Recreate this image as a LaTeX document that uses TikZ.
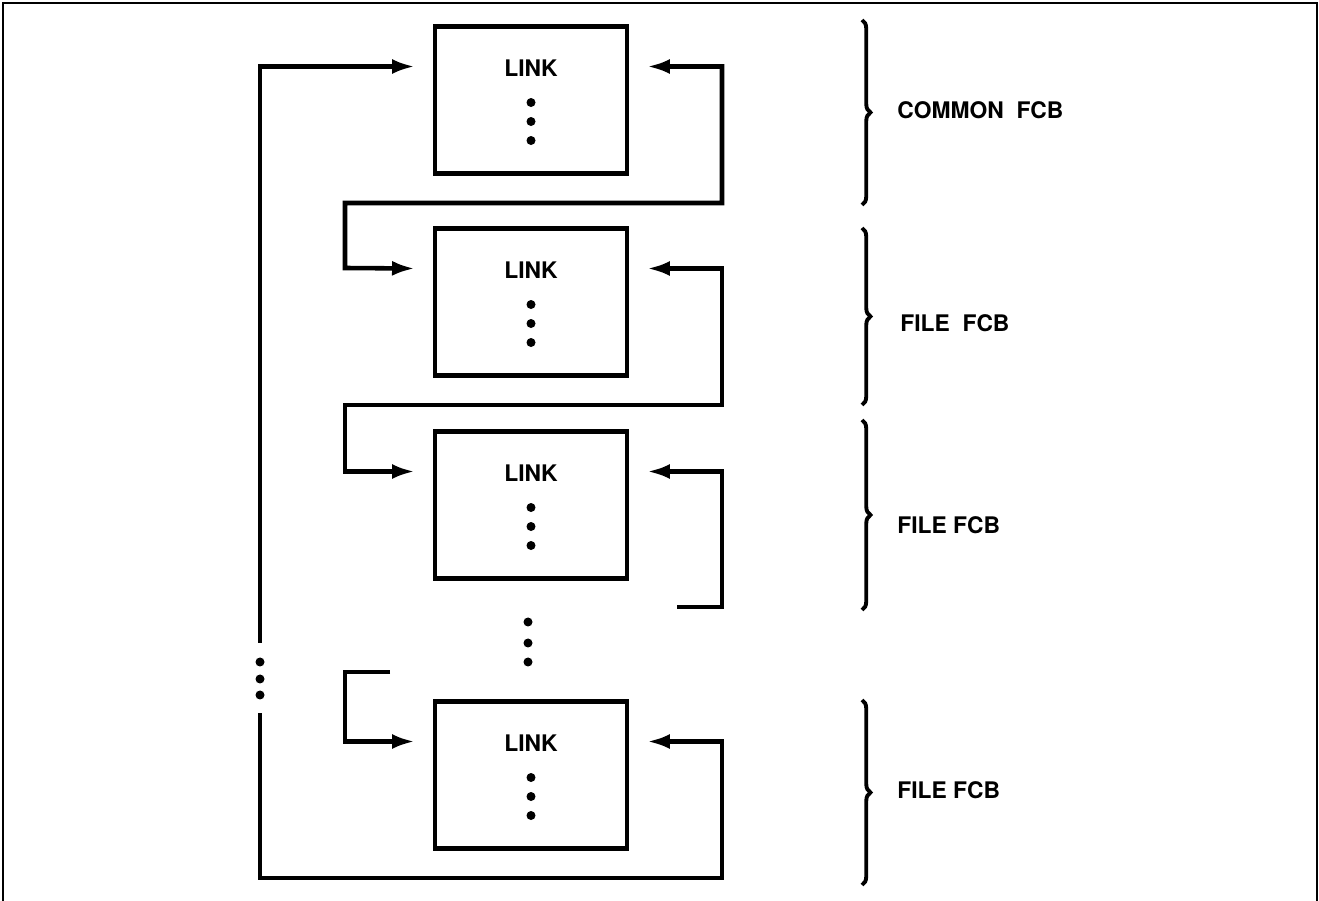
\documentclass[tikz,border=0pt]{standalone}
\usepackage{fontspec}
\setmainfont{TeX Gyre Heros}
\usetikzlibrary{arrows.meta,calc,decorations.pathreplacing}
\tikzset{
  fcbbox/.style={draw, line width=2.6pt, outer sep=0pt, minimum width=3.84cm, minimum height=2.94cm},
  lnk/.style={line width=2.6pt},
  lbl/.style={anchor=west, inner sep=0pt},
  fcbbrace/.style={line width=2.2pt, decorate, decoration={brace, amplitude=0.17cm}}
}
\begin{document}
\begin{tikzpicture}[x=0.02cm, y=-0.02cm, >={Latex[length=0.46cm,width=0.3cm]},
  font=\fontsize{13}{16}\selectfont\bfseries]
\useasboundingbox (0,0) rectangle (1319,901);
\draw[line width=1pt] (3,901) -- (3,3) -- (1317,3) -- (1317,901);
\node[fcbbox] (b1) at (531,100) {};
\node[fcbbox] (b2) at (531,302) {};
\node[fcbbox] (b3) at (531,505) {};
\node[fcbbox] (b4) at (531,775) {};
\foreach \i in {1,...,4} {
  \node (t\i) at ($(b\i.north)+(0,42)$) {LINK};
  \foreach \d in {34,53,72} \fill ($(t\i)+(0,\d)$) circle (0.09cm);
  \coordinate (l\i) at ($(b\i.north west)+(-20,40)$);
  \coordinate (r\i) at ($(b\i.north east)+(20,40)$);
}
\coordinate (e3) at (677,607);
\coordinate (e4) at (390,672);
\coordinate (g1) at (260,713);
\coordinate (g2) at (260,643);
\draw[lnk,<->] (r1) -| (722,203) -| (345,268) -- (l2);
\draw[lnk,<->] (r2) -| (722,405) -- (345,405) |- (l3);
\draw[lnk,<-] (r3) -| (722,607) -- (e3);
\draw[lnk,->] (e4) -- (345,672) |- (l4);
\draw[lnk,<-] (r4) -| (722,878) -| (g1);
\draw[lnk,->] (g2) |- (l1);
\foreach \y in {662,679,695} \fill (260,\y) circle (0.09cm);
\foreach \y in {622,643,662} \fill (528,\y) circle (0.09cm);
\foreach \ya/\yb in {20/205,228/405,420/610,700/885}
  \draw[fcbbrace] (862,\ya) -- (862,\yb);
\node[lbl] (f1) at (897,110) {COMMON\ \ FCB};
\node[lbl] (f2) at (900,323) {FILE\ \ FCB};
\node[lbl] (f3) at (897,525) {FILE FCB};
\node[lbl] (f4) at (897,790) {FILE FCB};
\end{tikzpicture}
\end{document}
